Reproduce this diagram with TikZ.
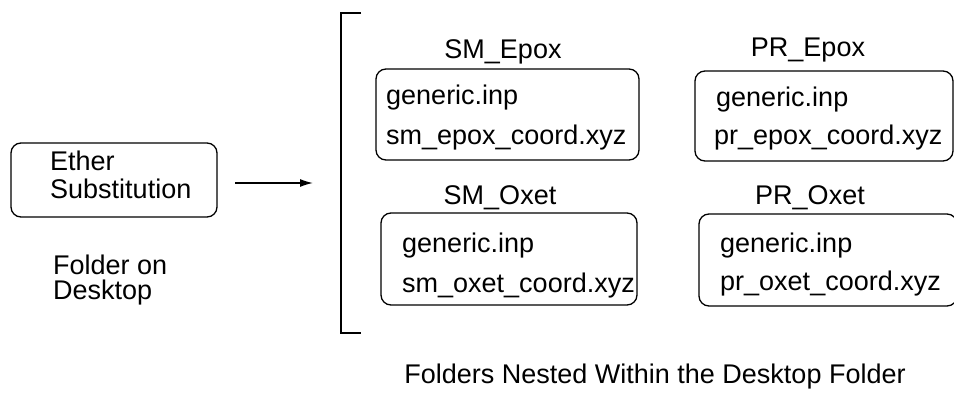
\documentclass[tikz,border=0pt]{standalone}
\usepackage{fontspec}
\setmainfont{Liberation Sans}
\usetikzlibrary{arrows.meta}
\begin{document}
\begin{tikzpicture}[x=1pt,y=-1pt,
  every node/.style={font=\fontsize{27}{30}\selectfont},
  folderbox/.style={draw,line width=1.3pt,rounded corners=10pt,inner sep=0pt},
  txt/.style={anchor=base west,inner sep=0pt},
  ctxt/.style={anchor=base,inner sep=0pt}]
\useasboundingbox (0,0) rectangle (954,393);
\clip (0,0) rectangle (954,393);
% left folder
\node[folderbox,minimum width=206pt,minimum height=74pt] (ether) at (114,180) {};
\node[txt] (t1) at (50,171) {Ether};
\node[txt] (t2) at (50,199) {Substitution};
\node[txt] (fd1) at (53,274) {Folder on};
\node[txt] (fd2) at (53,299) {Desktop};
% arrow
\coordinate (as) at (235,183);
\coordinate (ae) at (313,183);
\draw[line width=1.3pt,-{Latex[length=13pt,width=8pt]}] (as) -- (ae);
% bracket
\coordinate (b1) at (361,13);
\coordinate (b2) at (341,13);
\coordinate (b3) at (341,333);
\coordinate (b4) at (361,333);
\draw[line width=1.5pt] (b1) -- (b2) -- (b3) -- (b4);
% SM_Epox
\node[ctxt] (l1) at (503,59) {SM\_Epox};
\node[folderbox,minimum width=263pt,minimum height=91pt] (smep) at (507.5,114.5) {};
\node[txt] (a1) at (386,105) {generic.inp};
\node[txt] (a2) at (386,145) {sm\_epox\_coord.xyz};
% SM_Oxet
\node[ctxt] (l2) at (500,205) {SM\_Oxet};
\node[folderbox,minimum width=256pt,minimum height=92pt] (smox) at (509,259) {};
\node[txt] (b1t) at (402,252) {generic.inp};
\node[txt] (b2t) at (402,292) {sm\_oxet\_coord.xyz};
% PR_Epox
\node[ctxt] (l3) at (808,57) {PR\_Epox};
\node[folderbox,minimum width=258pt,minimum height=90pt] (prep) at (824,116) {};
\node[txt] (c1) at (716,107) {generic.inp};
\node[txt] (c2) at (714,145) {pr\_epox\_coord.xyz};
% PR_Oxet
\node[ctxt] (l4) at (810,205) {PR\_Oxet};
\node[folderbox,minimum width=258pt,minimum height=92pt] (prox) at (828,260) {};
\node[txt] (d1) at (720,252) {generic.inp};
\node[txt] (d2) at (720,290) {pr\_oxet\_coord.xyz};
% caption
\node[ctxt] (cap) at (655,383) {Folders Nested Within the Desktop Folder};
\end{tikzpicture}
\end{document}
